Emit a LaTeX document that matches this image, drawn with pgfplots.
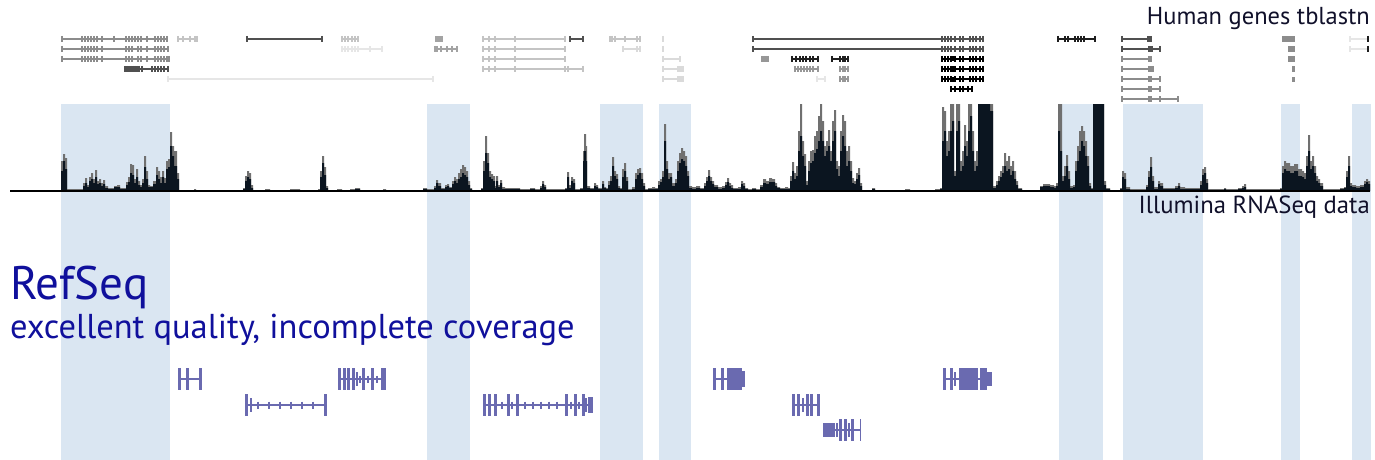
\documentclass[border=0pt]{standalone}
\usepackage{pgfplots}
\usepackage{pgfplotstable}
\pgfplotsset{compat=1.18}
\usepackage{fontspec}
\setmainfont{PT Sans}
\definecolor{cA}{HTML}{8C8C8C}
\definecolor{cD}{HTML}{505050}
\definecolor{cK}{HTML}{1E1E1E}
\definecolor{cL}{HTML}{C4C4C4}
\definecolor{cV}{HTML}{DADADA}
\definecolor{cW}{HTML}{E6E6E6}
\definecolor{shade}{HTML}{DAE6F2}
\definecolor{rs}{HTML}{6A6AB0}
\definecolor{rstext}{HTML}{10109C}
\definecolor{covgray}{HTML}{707070}
\definecolor{covblack}{HTML}{0B1520}
\definecolor{txt}{HTML}{10102A}

\pgfplotstableread{
x g b
10 0 0
58 1 1
61 30 20
63 37 30
65 33 22
67 2 1
78 2 1
83 8 5
85 13 8
87 6 4
89 14 10
91 18 12
93 12 8
95 21 14
97 10 7
99 12 8
101 8 5
103 11 7
105 5 3
108 3 2
114 5 4
117 6 4
120 3 2
126 9 6
128 14 9
130 27 18
132 26 16
134 12 8
136 22 14
138 10 6
140 6 4
142 12 8
144 35 24
146 20 12
148 6 4
150 5 4
153 10 7
156 24 16
158 20 12
160 14 8
162 20 14
164 13 8
166 30 22
168 32 24
170 59 45
172 45 35
174 40 25
177 18 12
179 0 0
194 2 1
196 0 0
243 3 2
245 15 10
247 20 14
249 18 12
251 6 3
253 1 1
265 2 1
270 1 1
290 2 1
300 1 1
318 2 1
320 20 14
322 35 28
324 24 16
326 5 3
328 1 1
337 2 1
342 1 1
350 2 1
355 3 2
360 1 1
383 2 1
386 1 1
423 3 2
427 2 1
434 5 3
436 11 8
438 8 5
441 3 2
445 6 4
447 7 5
449 4 3
452 10 7
454 14 10
456 12 8
458 18 12
460 22 14
462 26 18
464 24 16
466 20 14
468 10 6
470 3 2
472 1 1
481 3 2
483 30 20
485 55 38
487 38 28
489 20 14
491 17 12
493 15 10
495 5 3
496 15 10
498 6 4
500 11 8
502 4 2
505 3 2
520 2 1
530 3 2
535 2 1
540 5 3
542 10 7
544 6 4
546 2 1
565 3 2
567 19 14
569 6 3
571 14 10
573 12 8
575 2 1
580 3 2
583 40 30
584 57 40
586 45 30
587 5 3
590 3 2
594 8 5
596 6 4
598 3 2
602 10 7
604 4 3
606 3 2
608 10 6
610 15 10
612 34 25
614 20 15
616 17 12
618 5 3
620 3 2
622 22 14
624 28 20
626 14 10
628 2 1
632 4 2
635 18 12
637 22 16
639 23 18
641 18 12
643 8 5
645 2 1
648 3 2
652 4 2
655 3 2
658 10 6
660 12 9
662 20 14
664 67 50
666 30 22
668 18 12
670 18 14
672 8 5
675 12 8
677 30 20
679 38 28
681 43 32
683 40 30
685 35 25
687 20 15
689 5 3
692 4 2
696 5 3
700 3 2
704 8 5
706 14 10
708 21 15
710 14 10
712 10 7
714 6 4
718 4 2
722 5 3
725 9 6
727 13 9
729 8 5
731 6 3
733 3 2
738 4 2
741 10 7
743 8 5
745 3 2
748 2 1
752 3 2
756 2 1
760 6 4
763 12 8
766 10 7
769 13 9
772 12 9
775 8 5
777 4 3
780 3 2
785 4 2
788 3 2
790 15 10
792 29 20
794 18 12
796 25 15
798 60 40
800 87 55
802 50 35
804 37 25
806 10 6
808 30 20
810 40 28
812 41 30
814 55 38
816 60 42
818 75 50
820 87 60
822 70 50
824 45 35
826 50 40
828 61 45
830 40 30
832 70 50
834 81 60
836 30 22
838 25 15
840 60 40
842 76 55
844 70 45
846 40 25
848 45 30
850 30 20
852 13 8
854 10 7
856 18 12
858 23 16
860 8 5
862 1 1
872 3 2
875 1 1
905 2 1
910 1 1
935 2 1
940 3 2
942 84 50
944 80 60
946 50 35
948 60 40
950 87 60
952 87 70
954 20 15
956 87 60
958 87 70
960 30 20
962 40 25
964 66 45
966 50 35
968 87 60
970 87 75
972 60 40
974 30 20
976 40 25
978 87 87
990 87 80
993 5 3
996 10 6
998 15 10
1000 20 14
1002 25 18
1004 38 25
1006 30 20
1008 35 22
1010 25 16
1012 30 20
1014 20 12
1016 10 6
1018 3 2
1022 1 1
1040 5 4
1043 7 5
1050 6 4
1054 5 3
1056 8 5
1058 87 60
1060 87 40
1062 15 10
1064 25 15
1066 36 25
1068 20 12
1070 5 3
1073 6 4
1075 30 20
1077 45 30
1079 60 40
1081 65 50
1083 60 45
1085 50 35
1087 35 25
1089 8 5
1091 3 2
1093 87 87
1104 10 6
1106 3 2
1110 1 1
1120 3 2
1122 20 14
1124 18 12
1126 4 2
1130 2 1
1146 6 4
1148 20 14
1150 34 24
1152 15 10
1154 4 2
1158 10 7
1160 8 5
1163 3 2
1175 5 3
1178 8 5
1180 4 2
1185 3 2
1200 10 6
1202 22 16
1204 24 18
1206 12 8
1208 2 1
1224 3 2
1226 2 1
1238 3 2
1242 5 3
1244 7 4
1246 2 1
1280 3 2
1282 25 18
1284 30 22
1286 28 20
1290 25 18
1294 27 20
1298 22 15
1302 20 14
1304 18 12
1306 35 25
1308 56 40
1310 30 22
1312 35 25
1314 25 18
1316 15 10
1318 12 8
1320 8 5
1323 2 1
1340 3 2
1344 4 3
1346 20 14
1348 35 25
1350 8 5
1352 6 4
1356 5 3
1360 6 4
1364 10 7
1366 12 9
1368 10 7
1370 0 0
}\cov

\pgfplotsset{
  gl/.style={line width=1.3pt, line cap=butt},
  ex/.style={only marks, mark=|, mark size=3pt, mark options={line width=1.3pt}},
  bx/.style={line width=6pt, line cap=butt},
  rsl/.style={color=rs, line width=1.5pt},
  rst/.style={color=rs, only marks, mark=|, mark size=11pt, mark options={line width=3pt}},
  rsm/.style={color=rs, only marks, mark=|, mark size=7pt, mark options={line width=2.5pt}},
  rsa/.style={color=rs, only marks, mark=|, mark size=3.5pt, mark options={line width=1.2pt}},
  rsb/.style={color=rs, line width=22pt, line cap=butt},
  shd/.style={color=shade, line cap=butt},
}

\begin{document}
\begin{tikzpicture}
\begin{axis}[
  x=1pt, y=1pt, y dir=reverse,
  xmin=0, xmax=1375, ymin=0, ymax=460,
  hide axis, unbounded coords=jump,
]
\addplot[draw=none] coordinates {(0,0)(1375,460)};
% shaded regions
\addplot[shd, line width=109pt] coordinates {(115.5,104)(115.5,460)};
\addplot[shd, line width=43pt] coordinates {(448.5,104)(448.5,460)};
\addplot[shd, line width=43pt] coordinates {(621.5,104)(621.5,460)};
\addplot[shd, line width=32pt] coordinates {(675,104)(675,460)};
\addplot[shd, line width=44pt] coordinates {(1081,104)(1081,460)};
\addplot[shd, line width=80pt] coordinates {(1163,104)(1163,460)};
\addplot[shd, line width=19pt] coordinates {(1290.5,104)(1290.5,460)};
\addplot[shd, line width=19pt] coordinates {(1361.5,104)(1361.5,460)};

% coverage
\addplot[fill=covgray, draw=none, const plot] table[x=x, y expr=191-\thisrow{g}] {\cov};
\addplot[fill=covblack, draw=none, const plot] table[x=x, y expr=191-\thisrow{b}] {\cov};
\addplot[black, line width=1.3pt] coordinates {(10,191)(1370,191)};

% ---------- top gene track ----------
% row y=39
\addplot[gl, cA] coordinates {(62,39)(167,39)};
\addplot[ex, cA] coordinates {(62,39)(82,39)(85,39)(88,39)(91,39)(94,39)(97,39)(102,39)(114,39)(126,39)(129,39)(132,39)(135,39)(138,39)(141,39)(147,39)(155,39)(158,39)(161,39)(164,39)(167,39)};
\addplot[gl, cL] coordinates {(178,39)(197,39)};
\addplot[ex, cL] coordinates {(178,39)(183,39)(190,39)(195,39)(197,39)};
\addplot[gl, cD] coordinates {(247,39)(322,39)};
\addplot[ex, cD] coordinates {(247,39)(322,39)};
\addplot[gl, cL] coordinates {(342,39)(358,39)};
\addplot[ex, cL] coordinates {(342,39)(345,39)(348,39)(352,39)(355,39)(358,39)};
\addplot[bx, cA!80] coordinates {(435,39)(443,39)};
\addplot[gl, cL] coordinates {(483,39)(565,39)};
\addplot[ex, cL] coordinates {(483,39)(489,39)(495,39)(515,39)(565,39)};
\addplot[gl, cD] coordinates {(570,39)(583,39)};
\addplot[ex, cD] coordinates {(570,39)(583,39)};
\addplot[gl, cL] coordinates {(610,39)(640,39)};
\addplot[ex, cL] coordinates {(610,39)(612,39)(615,39)(625,39)(637,39)(640,39)};
\addplot[ex, cV] coordinates {(663,39)};
\addplot[gl, cD] coordinates {(753,39)(983,39)};
\addplot[ex, cD] coordinates {(753,39)(942,39)(945,39)(948,39)(951,39)(955,39)(960,39)(963,39)(970,39)(973,39)(976,39)(980,39)(983,39)};
\addplot[gl, cK] coordinates {(1058,39)(1095,39)};
\addplot[ex, cK] coordinates {(1058,39)(1065,39)(1068,39)(1075,39)(1078,39)(1081,39)(1084,39)(1095,39)};
\addplot[gl, cD] coordinates {(1122,39)(1150,39)};
\addplot[ex, cD] coordinates {(1122,39)};
\addplot[bx, cD] coordinates {(1147,39)(1152,39)};
\addplot[bx, cA] coordinates {(1282,39)(1295,39)};
\addplot[gl, cW] coordinates {(1350,39)(1367,39)};
\addplot[ex, cW] coordinates {(1350,39)};
\addplot[ex, cK] coordinates {(1368,39)};
% row y=49
\addplot[gl, cA] coordinates {(62,49)(168,49)};
\addplot[ex, cA] coordinates {(62,49)(82,49)(85,49)(88,49)(91,49)(94,49)(97,49)(102,49)(126,49)(129,49)(132,49)(138,49)(141,49)(147,49)(155,49)(158,49)(161,49)(164,49)(168,49)};
\addplot[gl, cW] coordinates {(342,49)(382,49)};
\addplot[ex, cW] coordinates {(342,49)(345,49)(348,49)(352,49)(355,49)(358,49)(370,49)(382,49)};
\addplot[gl, cA!80] coordinates {(435,49)(457,49)};
\addplot[ex, cA!80] coordinates {(435,49)(437,49)(441,49)(447,49)(452,49)(457,49)};
\addplot[gl, cL] coordinates {(483,49)(565,49)};
\addplot[ex, cL] coordinates {(483,49)(489,49)(495,49)(515,49)(565,49)};
\addplot[gl, cV] coordinates {(623,49)(640,49)};
\addplot[ex, cV] coordinates {(623,49)(637,49)(640,49)};
\addplot[ex, cV] coordinates {(663,49)};
\addplot[gl, cD] coordinates {(753,49)(983,49)};
\addplot[ex, cD] coordinates {(753,49)(942,49)(945,49)(948,49)(951,49)(955,49)(960,49)(963,49)(970,49)(973,49)(976,49)(980,49)(983,49)};
\addplot[gl, cD] coordinates {(1122,49)(1160,49)};
\addplot[ex, cD] coordinates {(1122,49)(1160,49)};
\addplot[bx, cD] coordinates {(1148,49)(1153,49)};
\addplot[bx, cA] coordinates {(1288,49)(1295,49)};
\addplot[gl, cW] coordinates {(1350,49)(1367,49)};
\addplot[ex, cW] coordinates {(1350,49)};
\addplot[ex, cK] coordinates {(1368,49)};
% row y=59
\addplot[gl, cA] coordinates {(62,59)(169,59)};
\addplot[ex, cA] coordinates {(62,59)(82,59)(85,59)(88,59)(91,59)(94,59)(97,59)(102,59)(126,59)(129,59)(132,59)(138,59)(141,59)(147,59)(155,59)(158,59)(161,59)(164,59)(167,59)(169,59)};
\addplot[gl, cL] coordinates {(483,59)(565,59)};
\addplot[ex, cL] coordinates {(483,59)(489,59)(495,59)(515,59)(565,59)};
\addplot[gl, cV] coordinates {(663,59)(680,59)};
\addplot[ex, cV] coordinates {(663,59)(680,59)};
\addplot[ex, cA!90] coordinates {(762,59)(764,59)(766,59)(768,59)};
\addplot[gl, cK] coordinates {(792,59)(818,59)};
\addplot[ex, cK] coordinates {(792,59)(796,59)(800,59)(803,59)(806,59)(810,59)(813,59)(818,59)};
\addplot[gl, cK] coordinates {(832,59)(848,59)};
\addplot[ex, cK] coordinates {(832,59)(840,59)(843,59)(845,59)(848,59)};
\addplot[gl, black] coordinates {(942,59)(983,59)};
\addplot[ex, black] coordinates {(942,59)(945,59)(948,59)(951,59)(955,59)(960,59)(963,59)(970,59)(973,59)(976,59)(980,59)(983,59)};
\addplot[bx, black, line width=5pt] coordinates {(950,59)(954,59)};
\addplot[gl, cA] coordinates {(1122,59)(1150,59)};
\addplot[ex, cA] coordinates {(1122,59)};
\addplot[bx, cA] coordinates {(1148,59)(1152,59)};
\addplot[bx, cA] coordinates {(1288,59)(1295,59)};
% row y=69
\addplot[gl, cD] coordinates {(125,69)(168,69)};
\addplot[ex, cD] coordinates {(125,69)(127,69)(129,69)(131,69)(133,69)(135,69)(137,69)(139,69)(142,69)(152,69)(155,69)(158,69)(161,69)(164,69)(168,69)};
\addplot[gl, cL] coordinates {(483,69)(583,69)};
\addplot[ex, cL] coordinates {(483,69)(489,69)(495,69)(515,69)(565,69)(568,69)(583,69)};
\addplot[gl, cV] coordinates {(663,69)(680,69)};
\addplot[ex, cV] coordinates {(663,69)};
\addplot[bx, cV] coordinates {(677,69)(684,69)};
\addplot[gl, cA!90] coordinates {(795,69)(818,69)};
\addplot[ex, cA!90] coordinates {(795,69)(798,69)(801,69)(804,69)(807,69)(810,69)(813,69)(818,69)};
\addplot[gl, cA!90] coordinates {(840,69)(848,69)};
\addplot[ex, cA!90] coordinates {(840,69)(843,69)(845,69)(848,69)};
\addplot[gl, black] coordinates {(942,69)(983,69)};
\addplot[ex, black] coordinates {(942,69)(945,69)(948,69)(951,69)(955,69)(960,69)(963,69)(970,69)(973,69)(976,69)(980,69)(983,69)};
\addplot[bx, black, line width=5pt] coordinates {(950,69)(954,69)};
\addplot[gl, cA] coordinates {(1122,69)(1150,69)};
\addplot[ex, cA] coordinates {(1122,69)};
\addplot[bx, cA] coordinates {(1148,69)(1154,69)};
\addplot[bx, cA, line width=5pt] coordinates {(1292,69)(1295,69)};
% row y=79
\addplot[gl, cW] coordinates {(168,79)(433,79)};
\addplot[ex, cW] coordinates {(168,79)(433,79)};
\addplot[gl, cV] coordinates {(663,79)(680,79)};
\addplot[ex, cV] coordinates {(663,79)};
\addplot[bx, cV] coordinates {(677,79)(684,79)};
\addplot[gl, cW] coordinates {(817,79)(825,79)};
\addplot[ex, cW] coordinates {(817,79)(825,79)};
\addplot[gl, cA!90] coordinates {(840,79)(848,79)};
\addplot[ex, cA!90] coordinates {(840,79)(843,79)(845,79)(848,79)};
\addplot[gl, black] coordinates {(942,79)(983,79)};
\addplot[ex, black] coordinates {(942,79)(945,79)(948,79)(951,79)(955,79)(960,79)(963,79)(970,79)(973,79)(976,79)(980,79)(983,79)};
\addplot[bx, black, line width=5pt] coordinates {(950,79)(954,79)};
\addplot[gl, cA] coordinates {(1122,79)(1160,79)};
\addplot[ex, cA] coordinates {(1122,79)(1160,79)};
\addplot[bx, cA] coordinates {(1148,79)(1152,79)};
\addplot[bx, cA, line width=5pt] coordinates {(1292,79)(1295,79)};
% row y=89
\addplot[gl, black] coordinates {(951,89)(972,89)};
\addplot[ex, black] coordinates {(951,89)(955,89)(960,89)(963,89)(968,89)(972,89)};
\addplot[gl, cA] coordinates {(1122,89)(1160,89)};
\addplot[ex, cA] coordinates {(1122,89)(1160,89)};
\addplot[bx, cA] coordinates {(1148,89)(1152,89)};
% row y=99
\addplot[gl, cA] coordinates {(1122,99)(1178,99)};
\addplot[ex, cA] coordinates {(1122,99)(1160,99)(1178,99)};
\addplot[bx, cA] coordinates {(1148,99)(1152,99)};

% ---------- RefSeq genes ----------
% A
\addplot[rsl] coordinates {(178,379)(202,379)};
\addplot[rst] coordinates {(179.5,379)(187,379)(200.5,379)};
% B
\addplot[rsl] coordinates {(245,405)(327,405)};
\addplot[rst] coordinates {(246.5,405)(325.5,405)};
\addplot[rsm] coordinates {(251,405)};
\addplot[rsa] coordinates {(258,405)(269,405)(280,405)(291,405)(302,405)(313,405)};
% C
\addplot[rsl] coordinates {(338,379)(386,379)};
\addplot[rst] coordinates {(339.5,379)(344,379)(348.5,379)(353,379)(363,379)(372,379)};
\addplot[rsm] coordinates {(357,379)};
\addplot[rsa] coordinates {(360,379)(368,379)(377,379)};
\addplot[rsb] coordinates {(381,379)(386,379)};
% D
\addplot[rsl] coordinates {(483,405)(593,405)};
\addplot[rst] coordinates {(484.5,405)(489,405)(495.5,405)(508,405)(517,405)(566,405)(575,405)(583,405)};
\addplot[rsa] coordinates {(502,405)(512,405)(525,405)(533,405)(541,405)(549,405)(557,405)(571,405)(579,405)};
\addplot[rsm] coordinates {(586,405)};
\addplot[rsb, line width=16pt] coordinates {(588,405)(593,405)};
% E
\addplot[rsl] coordinates {(713,379)(745,379)};
\addplot[rst] coordinates {(714.5,379)(722.5,379)};
\addplot[rsb] coordinates {(727,379)(742,379)};
\addplot[rsb, line width=16pt] coordinates {(742,379)(745,379)};
% F
\addplot[rsl] coordinates {(792,405)(820,405)};
\addplot[rst] coordinates {(793,405)(798,405)(807,405)(811.5,405)(818,405)};
\addplot[rsm] coordinates {(803,405)};
% G
\addplot[rsl] coordinates {(823,430)(861,430)};
\addplot[rsb, line width=14pt] coordinates {(823,430)(835,430)};
\addplot[rsm] coordinates {(837,430)(849,430)};
\addplot[rst] coordinates {(840,430)(845.5,430)(852.5,430)};
\addplot[rst, mark options={line width=1.4pt}] coordinates {(860.5,430)};
% H
\addplot[rsl] coordinates {(943,379)(992,379)};
\addplot[rst] coordinates {(944.5,379)(951,379)};
\addplot[rsm] coordinates {(955,379)};
\addplot[rsb] coordinates {(959,379)(978,379)};
\addplot[rsb] coordinates {(980,379)(987,379)};
\addplot[rsb, line width=14pt] coordinates {(987,379)(992,379)};

% ---------- text ----------
\node[anchor=base east, font=\fontsize{24.5}{26}\selectfont, text=txt, inner sep=0pt] at (axis cs:1370,25) {Human genes tblastn};
\node[anchor=base east, font=\fontsize{24.7}{26}\selectfont, text=txt, inner sep=0pt] at (axis cs:1370,213) {Illumina RNASeq data};
\node[anchor=base west, font=\fontsize{47}{50}\selectfont, text=rstext, inner sep=0pt] at (axis cs:10,299) {RefSeq};
\node[anchor=base west, font=\fontsize{34.5}{36}\selectfont, text=rstext, inner sep=0pt] at (axis cs:10,338) {excellent quality, incomplete coverage};
\end{axis}
\end{tikzpicture}
\end{document}
